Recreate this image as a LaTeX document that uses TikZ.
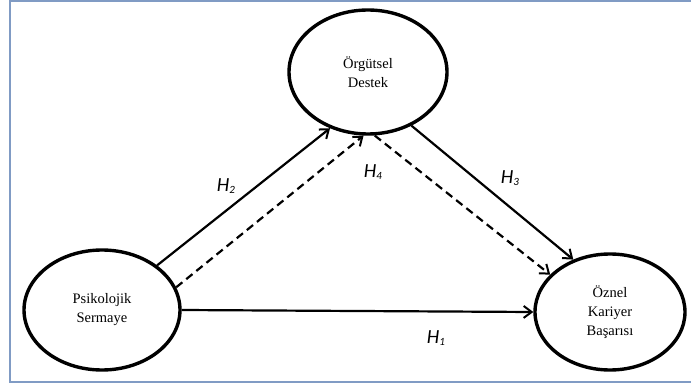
\documentclass[tikz,border=0pt]{standalone}
\usepackage{fontspec}
\setmainfont{Liberation Serif}
\newfontfamily\hfont{Carlito}
\usetikzlibrary{arrows.meta,shapes.geometric}
\definecolor{framecol}{RGB}{128,155,196}
\tikzset{
  var/.style={draw, line width=3.4pt, ellipse, inner sep=0pt, align=center,
    font=\fontsize{14.5}{19}\selectfont},
  link/.style={line width=2.2pt, -{Straight Barb[length=8pt,width=12pt,line width=2pt]}},
  dlink/.style={link, dash pattern=on 8pt off 5pt},
  hyp/.style={font=\hfont\itshape\fontsize{20}{20}\selectfont, inner sep=0pt}
}
\newcommand{\hyplabel}[1]{H\raisebox{-0.12em}{\fontsize{11}{11}\selectfont #1}}
\begin{document}
\begin{tikzpicture}[x=1pt,y=-1pt]
\useasboundingbox (0,0) rectangle (691,385);
\fill[white] (0,0) rectangle (691,385);
\draw[framecol, line width=2pt] (691,1) -- (9.5,1) -- (9.5,382) -- (691,382);
\node[var, minimum width=158pt, minimum height=124pt] (T) at (368,72) {Örgütsel\\Destek};
\node[var, minimum width=156pt, minimum height=120pt] (L) at (102,310) {Psikolojik\\Sermaye};
\node[var, minimum width=150pt, minimum height=116pt] (R) at (610,312) {Öznel\\Kariyer\\Başarısı};
\draw[link] (L.39) -- (T.236);
\draw[dlink] (L.17) -- (T.266);
\draw[dlink] (T.276) -- (R.148);
\draw[link] (T.309) -- (R.125);
\draw[link] (L.east) -- (R.west);
\node[hyp] (h2) at (226,186) {\hyplabel{2}};
\node[hyp] (h4) at (373,172) {\hyplabel{4}};
\node[hyp] (h3) at (510,178) {\hyplabel{3}};
\node[hyp] (h1) at (436,338) {\hyplabel{1}};
\end{tikzpicture}
\end{document}
